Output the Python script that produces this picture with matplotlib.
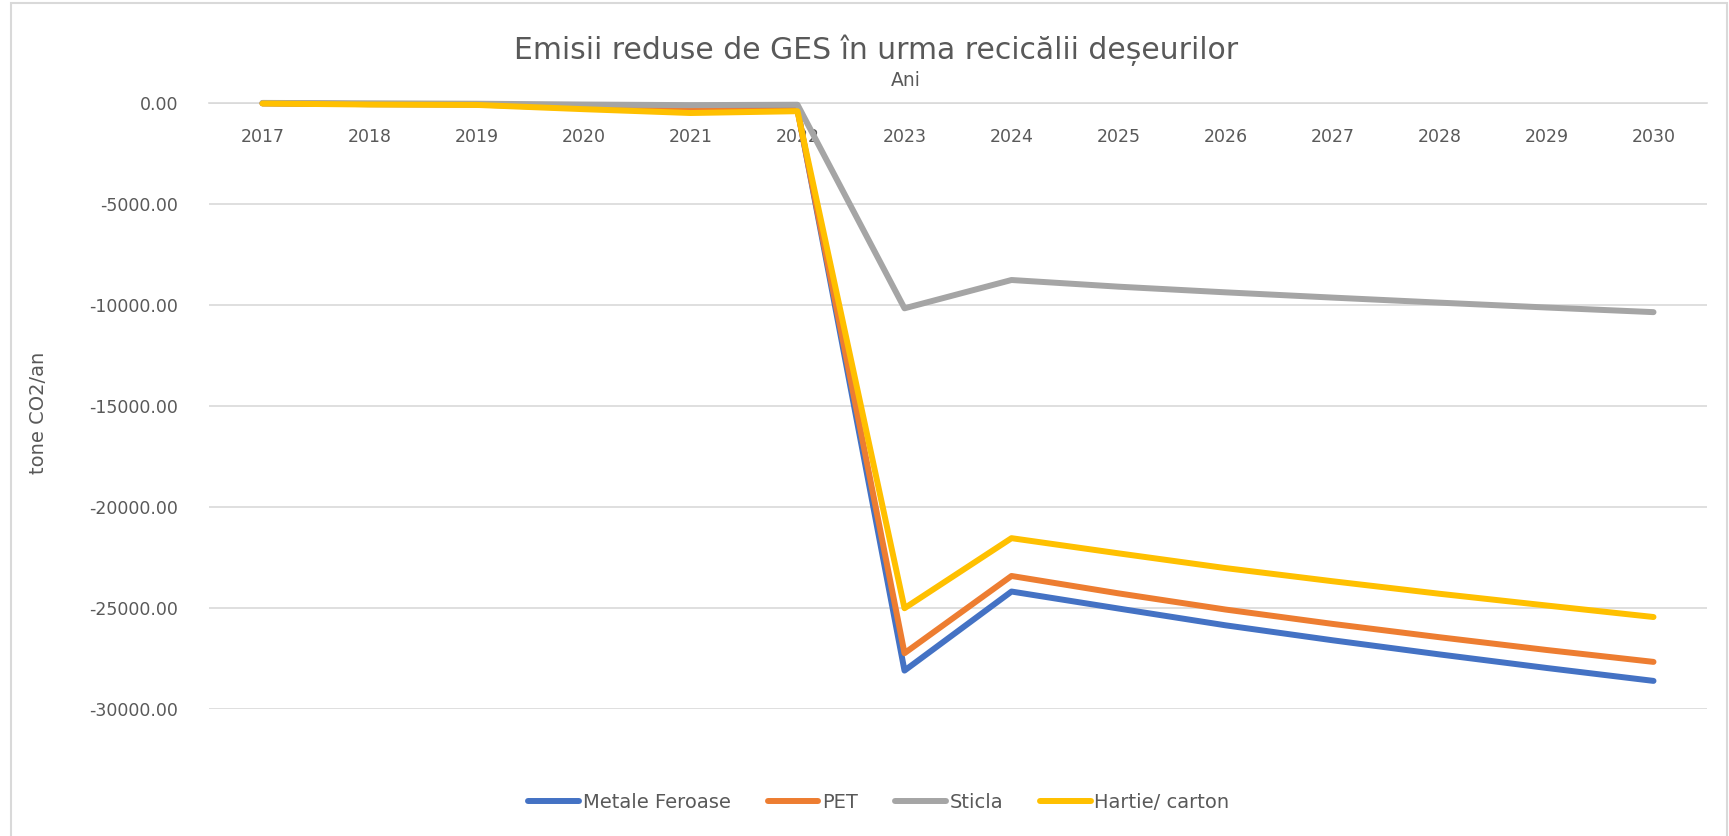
import numpy as np
import matplotlib
matplotlib.use('Agg')
from matplotlib import pyplot as plt
from matplotlib.patches import Rectangle

# Years and emission reductions (tone CO2/an) per waste stream
years = ['2017', '2018', '2019', '2020', '2021', '2022', '2023',
         '2024', '2025', '2026', '2027', '2028', '2029', '2030']

metale_feroase = [-40, -80, -90, -250, -380, -330, -28100,
                  -24190, -25030, -25860, -26600, -27300, -27970, -28610]
pet = [-40, -80, -100, -280, -420, -380, -27240,
       -23420, -24280, -25080, -25790, -26450, -27080, -27670]
sticla = [-20, -40, -60, -100, -130, -110, -10180,
          -8780, -9110, -9390, -9650, -9900, -10140, -10370]
hartie_carton = [-50, -100, -120, -330, -520, -430, -25015,
                 -21550, -22300, -23030, -23680, -24300, -24880, -25450]

series_names = ['Metale Feroase', 'PET', 'Sticla', 'Hartie/ carton']
series_colors = ['#4472C4', '#ED7D31', '#A5A5A5', '#FFC000']

text_grey = '#595959'
grid_grey = '#D9D9D9'

fig = plt.figure(figsize=(17.29, 8.36), dpi=100)
ax = fig.add_axes([209 / 1729, 1 - 709 / 836, (1707 - 209) / 1729, (709 - 102.5) / 836])

x = np.arange(len(years))
for vals, name, col in zip([metale_feroase, pet, sticla, hartie_carton], series_names, series_colors):
    ax.plot(x, vals, color=col, lw=4.3, label=name,
            solid_capstyle='round', solid_joinstyle='round', clip_on=False, zorder=3)

ax.set_xlim(-0.5, len(years) - 0.5)
ax.set_ylim(-30000, 0)
ax.set_yticks(np.arange(-30000, 1, 5000))
ax.set_yticklabels([f'{v:.2f}' for v in np.arange(-30000, 1, 5000)])
ax.set_xticks(x)
ax.set_xticklabels(years)

ax.grid(axis='y', color=grid_grey, lw=1.2)
ax.set_axisbelow(True)
for s in ['top', 'left', 'right']:
    ax.spines[s].set_visible(False)
ax.spines['bottom'].set_position(('data', 0))
ax.spines['bottom'].set_color(grid_grey)
ax.spines['bottom'].set_linewidth(1.2)
ax.tick_params(axis='both', length=0, labelsize=12.5, colors=text_grey)
ax.tick_params(axis='x', pad=18)
ax.tick_params(axis='y', pad=22)

fig.text(39 / 1729, 1 - 413 / 836, 'tone CO2/an', rotation=90, ha='center', va='center',
         fontsize=14, color=text_grey)
fig.text(876 / 1729, 1 - 50 / 836, 'Emisii reduse de GES în urma recicălii deșeurilor',
         ha='center', va='center', fontsize=21.5, color=text_grey)
fig.text(906 / 1729, 1 - 80 / 836, 'Ani', ha='center', va='center',
         fontsize=13.5, color=text_grey)

leg = fig.legend(loc='center', bbox_to_anchor=(879 / 1729, 1 - 802 / 836), ncol=4,
                 frameon=False, handlelength=2.6, handletextpad=0.2, columnspacing=1.9,
                 prop={'size': 14})
for t in leg.get_texts():
    t.set_color(text_grey)

# chart area border
fig.patches.append(Rectangle((11 / 1729, -0.01), (1727 - 11) / 1729, 1 - 3 / 836 + 0.01,
                             transform=fig.transFigure, fill=False,
                             edgecolor=grid_grey, lw=1.5))

fig.savefig('out.png', dpi=100)
